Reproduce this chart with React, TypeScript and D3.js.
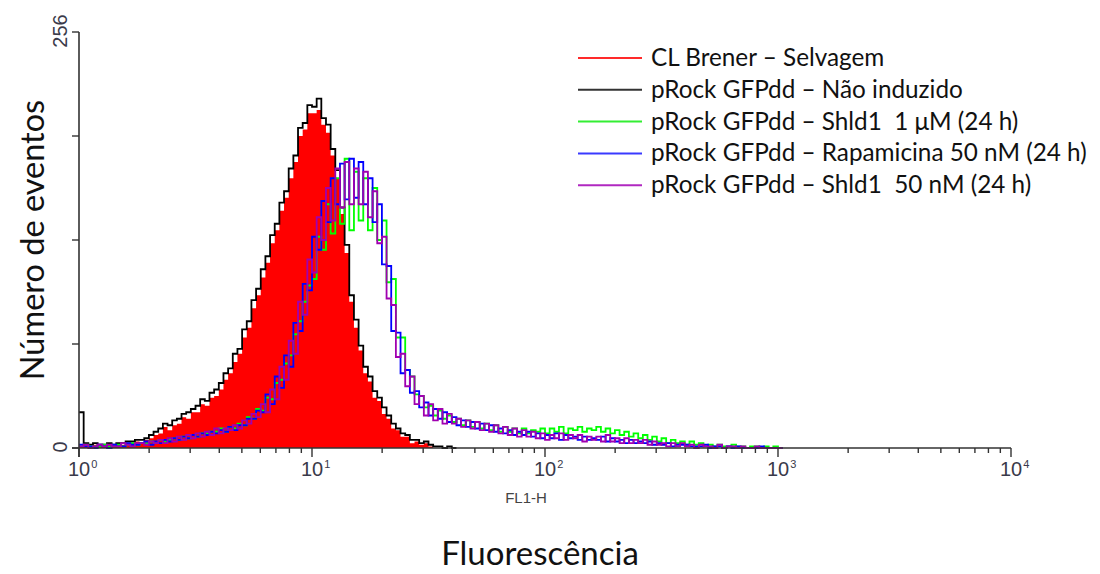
import React from "react";
import * as d3 from "d3";

// Histogram channel width in decades (log10 units) — each count array starts at 10^0
const binDecades = 0.02;

const redCounts = [
  1, 2, 1, 2, 1, 1, 2, 1, 2, 2,
  3, 2, 4, 3, 5, 6, 8, 9, 13, 11,
  14, 15, 19, 18, 22, 22, 27, 26, 31, 32,
  36, 42, 46, 53, 58, 68, 74, 86, 94, 105,
  114, 126, 134, 146, 154, 166, 176, 192, 196, 206,
  206, 208, 199, 194, 180, 166, 144, 120, 90, 74,
  60, 46, 41, 31, 29, 21, 18, 12, 11, 7,
  7, 3, 4, 2, 3, 1, 0, 0, 0, 0, 0,
];

const blackCounts = [
  22, 3, 2, 3, 2, 2, 3, 2, 3, 3,
  4, 4, 5, 5, 6, 8, 10, 12, 15, 14,
  17, 18, 21, 22, 24, 26, 30, 29, 34, 36,
  40, 46, 49, 58, 61, 73, 78, 91, 98, 110,
  118, 131, 138, 151, 158, 172, 180, 197, 200, 211,
  210, 215, 203, 199, 184, 171, 148, 125, 94, 79,
  63, 50, 44, 35, 31, 25, 20, 15, 12, 9,
  8, 5, 5, 3, 4, 2, 1, 1, 0, 1, 0,
];

const greenCounts = [
  1, 2, 1, 1, 1, 2, 1, 1, 2, 1,
  2, 3, 2, 3, 3, 4, 3, 5, 4, 5,
  6, 5, 7, 6, 8, 7, 9, 9, 10, 10,
  12, 10, 13, 12, 15, 14, 19, 18, 24, 23,
  31, 30, 40, 42, 52, 57, 70, 78, 90, 100,
  104, 130, 122, 150, 132, 166, 138, 178, 134, 170,
  140, 166, 134, 160, 128, 140, 102, 104, 68, 68,
  48, 44, 33, 32, 25, 26, 20, 23, 18, 20,
  16, 18, 14, 17, 13, 16, 12, 15, 11, 14,
  10, 13, 10, 12, 9, 12, 9, 11, 10, 12,
  9, 12, 10, 13, 9, 12, 11, 13, 10, 12,
  11, 13, 10, 12, 9, 11, 8, 10, 7, 9,
  6, 8, 5, 7, 4, 6, 3, 5, 3, 4,
  2, 4, 2, 3, 1, 2, 1, 2, 1, 1,
  2, 1, 1, 0, 1, 1, 0, 1, 0, 1, 0,
];

const blueCounts = [
  2, 1, 1, 0, 2, 1, 0, 2, 1, 1,
  3, 2, 2, 3, 4, 2, 4, 3, 5, 4,
  6, 5, 7, 6, 8, 7, 9, 8, 10, 9,
  11, 10, 13, 11, 14, 14, 18, 18, 23, 22,
  33, 27, 44, 37, 57, 50, 77, 72, 101, 97,
  130, 122, 152, 139, 166, 150, 175, 153, 178, 154,
  176, 150, 166, 139, 150, 113, 112, 72, 71, 46,
  48, 34, 35, 25, 28, 20, 24, 18, 22, 16,
  19, 14, 17, 13, 16, 12, 15, 11, 14, 10,
  12, 9, 11, 8, 10, 8, 10, 7, 9, 6,
  8, 6, 9, 5, 8, 6, 7, 5, 7, 5,
  6, 5, 7, 4, 6, 4, 5, 3, 5, 3,
  4, 3, 4, 2, 3, 2, 3, 1, 2, 2,
  2, 1, 1, 1, 2, 0, 1, 1, 0, 1,
  0, 1, 0, 0, 0, 0, 1, 0, 0, 0, 0,
];

const purpleCounts = [
  1, 2, 0, 1, 2, 1, 2, 1, 1, 3,
  2, 1, 3, 3, 2, 4, 3, 5, 3, 6,
  4, 7, 5, 8, 6, 9, 7, 10, 8, 12,
  9, 12, 11, 14, 12, 17, 15, 21, 19, 27,
  22, 36, 30, 50, 42, 66, 58, 90, 82, 116,
  108, 142, 128, 160, 140, 172, 148, 176, 150, 172,
  150, 170, 142, 158, 126, 130, 92, 88, 56, 58,
  38, 44, 27, 32, 20, 27, 17, 24, 15, 21,
  15, 18, 13, 17, 12, 16, 11, 15, 10, 14,
  9, 13, 8, 12, 7, 11, 7, 10, 6, 9,
  5, 8, 6, 9, 5, 8, 6, 8, 4, 7,
  5, 7, 4, 8, 4, 6, 3, 6, 3, 5,
  3, 5, 2, 4, 2, 3, 1, 3, 1, 3,
  1, 2, 0, 2, 1, 1, 0, 2, 0, 1,
  1, 0, 1, 0, 0, 1, 0, 0, 0, 0, 0,
];

const legendLabels = [
  "CL Brener \u2013 Selvagem",
  "pRock GFPdd \u2013 N\u00e3o induzido",
  "pRock GFPdd \u2013 Shld1  1 \u03bcM (24 h)",
  "pRock GFPdd \u2013 Rapamicina 50 nM (24 h)",
  "pRock GFPdd \u2013 Shld1  50 nM (24 h)",
];
const legendColors = ["#ff2a2a", "#333333", "#33ee33", "#3a3aff", "#b028c0"];

const yTicks = [0, 64, 128, 192, 256];
const yTickLabels = ["0", "256"];
const xDecades = [0, 1, 2, 3, 4];
const minorMultipliers = [2, 3, 4, 5, 6, 7, 8, 9];

const yTitle = "N\u00famero de eventos";
const xTitle = "Fluoresc\u00eancia";
const xSubTitle = "FL1-H";

export default function App() {
  const W = 1100;
  const H = 574;
  const x = d3.scaleLog().domain([1, 10000]).range([79, 1011]);
  const y = d3.scaleLinear().domain([0, 256]).range([448, 32]);

  const toPoints = (counts: number[]) => {
    const pts: [number, number][] = counts.map((c, i) => [
      x(Math.pow(10, i * binDecades)),
      y(c),
    ]);
    const n = counts.length;
    pts.push([x(Math.pow(10, n * binDecades)), y(counts[n - 1])]);
    return pts;
  };

  const line = d3.line().curve(d3.curveStepAfter);
  const area = d3
    .area<[number, number]>()
    .x((d) => d[0])
    .y0(y(0))
    .y1((d) => d[1])
    .curve(d3.curveStepAfter);

  const redPts = toPoints(redCounts);
  const lineSeries = [
    { pts: toPoints(blackCounts), color: "#000000" },
    { pts: toPoints(greenCounts), color: "#00ff00" },
    { pts: toPoints(blueCounts), color: "#0000ff" },
    { pts: toPoints(purpleCounts), color: "#a000b0" },
  ];

  const tickFont = "'Liberation Sans', Arial, sans-serif";
  const titleFont = "Lato, 'Open Sans', sans-serif";
  const axisColor = "#333";

  const minorTicks: number[] = [];
  xDecades.slice(0, -1).forEach((d) =>
    minorMultipliers.forEach((m) => minorTicks.push(m * Math.pow(10, d)))
  );

  return (
    <svg
      width={W}
      height={H}
      style={{ position: "absolute", left: 0, top: 0, background: "#fff" }}
    >
      <rect x={0} y={0} width={W} height={H} fill="#fff" />
      {/* data */}
      <path d={area(redPts) || ""} fill="#ff0000" stroke="none" />
      {lineSeries.map((s, i) => (
        <path
          key={i}
          d={line(s.pts) || ""}
          fill="none"
          stroke={s.color}
          strokeWidth={1.8}
          strokeLinejoin="miter"
        />
      ))}

      {/* y axis */}
      <line x1={79} x2={79} y1={y(256)} y2={y(0) + 9} stroke={axisColor} strokeWidth={1.6} />
      {yTicks.map((t) => (
        <line key={t} x1={72} x2={79} y1={y(t)} y2={y(t)} stroke={axisColor} strokeWidth={1.4} />
      ))}
      {yTickLabels.map((lab) => (
        <text
          key={lab}
          transform={`translate(67,${y(+lab) - 1}) rotate(-90)`}
          textAnchor="middle"
          fontFamily={tickFont}
          fontSize={20}
          fill="#3a3a4a"
        >
          {lab}
        </text>
      ))}

      {/* x axis */}
      <line x1={72} x2={x(10000)} y1={y(0)} y2={y(0)} stroke={axisColor} strokeWidth={1.6} />
      {xDecades.map((d) => (
        <line
          key={d}
          x1={x(Math.pow(10, d))}
          x2={x(Math.pow(10, d))}
          y1={y(0)}
          y2={y(0) + 9}
          stroke={axisColor}
          strokeWidth={1.4}
        />
      ))}
      {minorTicks.map((v) => (
        <line key={v} x1={x(v)} x2={x(v)} y1={y(0)} y2={y(0) + 5} stroke={axisColor} strokeWidth={1.4} />
      ))}
      {xDecades.map((d) => (
        <text
          key={d}
          x={x(Math.pow(10, d)) - 11}
          y={476}
          fontFamily={tickFont}
          fontSize={20}
          fill="#3a3a4a"
        >
          10
          <tspan dx={1} dy={-8} fontSize={11}>
            {d}
          </tspan>
        </text>
      ))}
      <text
        x={526}
        y={503}
        textAnchor="middle"
        fontFamily={tickFont}
        fontSize={15}
        fill="#444"
      >
        {xSubTitle}
      </text>

      {/* titles */}
      <text
        x={540}
        y={565}
        textAnchor="middle"
        fontFamily={titleFont}
        fontSize={33}
        fill="#111"
      >
        {xTitle}
      </text>
      <text
        transform="translate(44,240) rotate(-90)"
        textAnchor="middle"
        fontFamily={titleFont}
        fontSize={32.5}
        fill="#111"
      >
        {yTitle}
      </text>

      {/* legend */}
      {legendLabels.map((lab, i) => {
        const cy = 58 + i * 31.8;
        return (
          <g key={lab}>
            <line x1={578} x2={642} y1={cy} y2={cy} stroke={legendColors[i]} strokeWidth={2} />
            <text
              x={651}
              y={cy + 8}
              fontFamily={titleFont}
              fontSize={24.3}
              fill="#111"
              style={{ whiteSpace: "pre" }}
            >
              {lab}
            </text>
          </g>
        );
      })}
    </svg>
  );
}
